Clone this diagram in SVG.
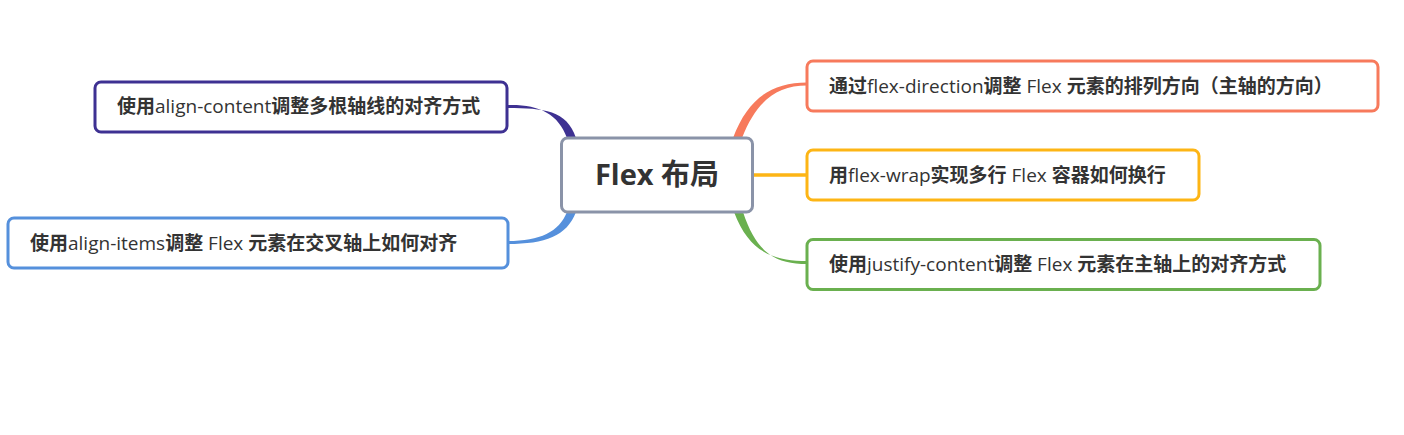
<svg xmlns="http://www.w3.org/2000/svg" width="1404" height="435" viewBox="0 0 1404 435">
<style>
.node rect{fill:#fff;stroke-width:3}
.t{font-family:"Open Sans","Noto Sans CJK SC",sans-serif;font-size:19px;fill:#333}
.b{font-weight:bold}
.center{font-family:"Open Sans","Noto Sans CJK SC",sans-serif;font-size:29px;font-weight:bold;fill:#333}
</style>
<rect width="1404" height="435" fill="#fff"/>
<g id="connectors">
<path d="M507,105 C538,104 558,113 567,138 L576,138 C567,110 543,108 507,108 Z" fill="#3e3192"/>
<path d="M508,241 C540,241 559,232 567,212 L576,212 C567,236 545,244 508,244 Z" fill="#5590dc"/>
<path d="M733,138 C748,98 772,82.5 807,82.5 L807,85.5 C776,85.5 756,102 742,138 Z" fill="#f77a5c"/>
<path d="M753,175 L807,175" stroke="#fdb515" stroke-width="3.5" fill="none"/>
<path d="M734,212 C749,252 773,261 807,261 L807,264 C776,264 757,254 743,212 Z" fill="#6ab04f"/>
</g>
<g id="root" class="node">
<rect x="561.5" y="138" width="191" height="74" rx="6" stroke="#8a93a8"/>
<text class="center" x="657" y="185" text-anchor="middle">Flex 布局</text>
</g>
<g id="n-align-content" class="node">
<rect x="95" y="82" width="412" height="50" rx="6" stroke="#3e3192"/>
<text class="t" x="117" y="113"><tspan class="b">使用</tspan>align-content<tspan class="b">调整多根轴线的对齐方式</tspan></text>
</g>
<g id="n-align-items" class="node">
<rect x="8" y="218" width="500" height="50" rx="6" stroke="#5590dc"/>
<text class="t" x="30" y="250"><tspan class="b">使用</tspan>align-items<tspan class="b">调整</tspan> Flex <tspan class="b">元素在交叉轴上如何对齐</tspan></text>
</g>
<g id="n-flex-direction" class="node">
<rect x="807" y="61" width="571" height="50" rx="6" stroke="#f77a5c"/>
<text class="t" x="829" y="93"><tspan class="b">通过</tspan>flex-direction<tspan class="b">调整</tspan> Flex <tspan class="b">元素的排列方向（主轴的方向）</tspan></text>
</g>
<g id="n-flex-wrap" class="node">
<rect x="807" y="150" width="392" height="50" rx="6" stroke="#fdb515"/>
<text class="t" x="829" y="182"><tspan class="b">用</tspan>flex-wrap<tspan class="b">实现多行</tspan> Flex <tspan class="b">容器如何换行</tspan></text>
</g>
<g id="n-justify-content" class="node">
<rect x="807" y="239.5" width="513" height="50" rx="6" stroke="#6ab04f"/>
<text class="t" x="829" y="271"><tspan class="b">使用</tspan>justify-content<tspan class="b">调整</tspan> Flex <tspan class="b">元素在主轴上的对齐方式</tspan></text>
</g>
</svg>
